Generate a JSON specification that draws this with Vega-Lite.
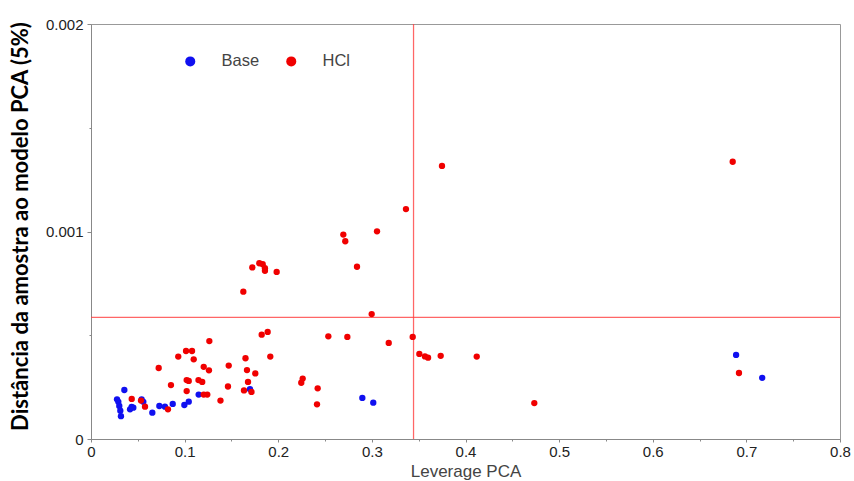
{
  "$schema": "https://vega.github.io/schema/vega-lite/v6.json",
  "width": 749,
  "height": 415,
  "autosize": "none",
  "padding": {"left": 91, "top": 24, "right": 14, "bottom": 42},
  "background": "white",
  "config": {
    "view": {"stroke": "#999999", "strokeWidth": 1},
    "font": "Liberation Sans"
  },
  "layer": [
    {
      "data": {"values": [{}]},
      "mark": {"type": "rule", "color": "#ff4040", "strokeWidth": 1.25, "opacity": 0.8},
      "encoding": {"y": {"datum": 0.000586, "type": "quantitative"}}
    },
    {
      "data": {"values": [{}]},
      "mark": {"type": "rule", "color": "#ff4040", "strokeWidth": 1.25, "opacity": 0.8},
      "encoding": {"x": {"datum": 0.3445, "type": "quantitative"}}
    },
    {
      "data": {"values": [
        {"lev": 0.0356, "dist": 0.000236, "grupo": "Base"},
        {"lev": 0.0278, "dist": 0.000191, "grupo": "Base"},
        {"lev": 0.0292, "dist": 0.000179, "grupo": "Base"},
        {"lev": 0.0302, "dist": 0.000159, "grupo": "Base"},
        {"lev": 0.0313, "dist": 0.000136, "grupo": "Base"},
        {"lev": 0.0320, "dist": 0.000110, "grupo": "Base"},
        {"lev": 0.0417, "dist": 0.000143, "grupo": "Base"},
        {"lev": 0.0434, "dist": 0.000155, "grupo": "Base"},
        {"lev": 0.0452, "dist": 0.000151, "grupo": "Base"},
        {"lev": 0.0541, "dist": 0.000191, "grupo": "Base"},
        {"lev": 0.0559, "dist": 0.000179, "grupo": "Base"},
        {"lev": 0.0655, "dist": 0.000127, "grupo": "Base"},
        {"lev": 0.0730, "dist": 0.000159, "grupo": "Base"},
        {"lev": 0.0790, "dist": 0.000156, "grupo": "Base"},
        {"lev": 0.0873, "dist": 0.000169, "grupo": "Base"},
        {"lev": 0.0997, "dist": 0.000164, "grupo": "Base"},
        {"lev": 0.1044, "dist": 0.000180, "grupo": "Base"},
        {"lev": 0.1150, "dist": 0.000214, "grupo": "Base"},
        {"lev": 0.1698, "dist": 0.000240, "grupo": "Base"},
        {"lev": 0.2898, "dist": 0.000198, "grupo": "Base"},
        {"lev": 0.3015, "dist": 0.000175, "grupo": "Base"},
        {"lev": 0.6890, "dist": 0.000405, "grupo": "Base"},
        {"lev": 0.7169, "dist": 0.000295, "grupo": "Base"},
        {"lev": 0.1264, "dist": 0.000472, "grupo": "HCl"},
        {"lev": 0.1823, "dist": 0.000503, "grupo": "HCl"},
        {"lev": 0.1887, "dist": 0.000516, "grupo": "HCl"},
        {"lev": 0.1915, "dist": 0.000397, "grupo": "HCl"},
        {"lev": 0.0932, "dist": 0.000397, "grupo": "HCl"},
        {"lev": 0.1015, "dist": 0.000424, "grupo": "HCl"},
        {"lev": 0.1079, "dist": 0.000424, "grupo": "HCl"},
        {"lev": 0.1097, "dist": 0.000384, "grupo": "HCl"},
        {"lev": 0.0723, "dist": 0.000342, "grupo": "HCl"},
        {"lev": 0.1204, "dist": 0.000348, "grupo": "HCl"},
        {"lev": 0.1260, "dist": 0.000331, "grupo": "HCl"},
        {"lev": 0.1471, "dist": 0.000354, "grupo": "HCl"},
        {"lev": 0.1650, "dist": 0.000389, "grupo": "HCl"},
        {"lev": 0.1666, "dist": 0.000332, "grupo": "HCl"},
        {"lev": 0.1755, "dist": 0.000316, "grupo": "HCl"},
        {"lev": 0.1677, "dist": 0.000275, "grupo": "HCl"},
        {"lev": 0.0854, "dist": 0.000260, "grupo": "HCl"},
        {"lev": 0.1022, "dist": 0.000284, "grupo": "HCl"},
        {"lev": 0.1044, "dist": 0.000280, "grupo": "HCl"},
        {"lev": 0.1148, "dist": 0.000284, "grupo": "HCl"},
        {"lev": 0.1188, "dist": 0.000275, "grupo": "HCl"},
        {"lev": 0.1463, "dist": 0.000253, "grupo": "HCl"},
        {"lev": 0.1022, "dist": 0.000231, "grupo": "HCl"},
        {"lev": 0.1634, "dist": 0.000234, "grupo": "HCl"},
        {"lev": 0.1714, "dist": 0.000227, "grupo": "HCl"},
        {"lev": 0.1204, "dist": 0.000214, "grupo": "HCl"},
        {"lev": 0.1242, "dist": 0.000214, "grupo": "HCl"},
        {"lev": 0.1383, "dist": 0.000185, "grupo": "HCl"},
        {"lev": 0.0435, "dist": 0.000193, "grupo": "HCl"},
        {"lev": 0.0534, "dist": 0.000185, "grupo": "HCl"},
        {"lev": 0.0577, "dist": 0.000156, "grupo": "HCl"},
        {"lev": 0.0822, "dist": 0.000143, "grupo": "HCl"},
        {"lev": 0.2261, "dist": 0.000291, "grupo": "HCl"},
        {"lev": 0.2246, "dist": 0.000271, "grupo": "HCl"},
        {"lev": 0.2421, "dist": 0.000244, "grupo": "HCl"},
        {"lev": 0.2414, "dist": 0.000167, "grupo": "HCl"},
        {"lev": 0.2535, "dist": 0.000495, "grupo": "HCl"},
        {"lev": 0.2738, "dist": 0.000492, "grupo": "HCl"},
        {"lev": 0.3180, "dist": 0.000463, "grupo": "HCl"},
        {"lev": 0.3436, "dist": 0.000492, "grupo": "HCl"},
        {"lev": 0.3507, "dist": 0.000410, "grupo": "HCl"},
        {"lev": 0.3567, "dist": 0.000398, "grupo": "HCl"},
        {"lev": 0.3600, "dist": 0.000392, "grupo": "HCl"},
        {"lev": 0.3735, "dist": 0.000401, "grupo": "HCl"},
        {"lev": 0.4120, "dist": 0.000397, "grupo": "HCl"},
        {"lev": 0.4735, "dist": 0.000173, "grupo": "HCl"},
        {"lev": 0.6921, "dist": 0.000318, "grupo": "HCl"},
        {"lev": 0.6854, "dist": 0.001336, "grupo": "HCl"},
        {"lev": 0.2695, "dist": 0.000985, "grupo": "HCl"},
        {"lev": 0.2716, "dist": 0.000953, "grupo": "HCl"},
        {"lev": 0.3055, "dist": 0.001001, "grupo": "HCl"},
        {"lev": 0.1723, "dist": 0.000827, "grupo": "HCl"},
        {"lev": 0.1798, "dist": 0.000847, "grupo": "HCl"},
        {"lev": 0.1834, "dist": 0.000842, "grupo": "HCl"},
        {"lev": 0.1858, "dist": 0.000823, "grupo": "HCl"},
        {"lev": 0.1858, "dist": 0.000811, "grupo": "HCl"},
        {"lev": 0.1983, "dist": 0.000805, "grupo": "HCl"},
        {"lev": 0.1627, "dist": 0.000710, "grupo": "HCl"},
        {"lev": 0.2841, "dist": 0.000830, "grupo": "HCl"},
        {"lev": 0.2998, "dist": 0.000602, "grupo": "HCl"},
        {"lev": 0.3364, "dist": 0.001108, "grupo": "HCl"},
        {"lev": 0.3749, "dist": 0.001316, "grupo": "HCl"}
      ]},
      "mark": {"type": "point", "filled": true, "opacity": 1, "size": 40, "shape": "circle"},
      "encoding": {
        "x": {
          "field": "lev",
          "type": "quantitative",
          "scale": {"domain": [0, 0.8], "nice": false, "zero": false},
          "axis": {
            "title": "Leverage PCA",
            "grid": false,
            "values": [0, 0.05, 0.1, 0.15, 0.2, 0.25, 0.3, 0.35, 0.4, 0.45, 0.5, 0.55, 0.6, 0.65, 0.7, 0.75, 0.8],
            "labelExpr": "abs(datum.value*10 - round(datum.value*10)) < 0.001 ? format(datum.value, '~g') : ''",
            "labelFont": "Liberation Sans",
            "labelFontSize": 15,
            "labelColor": "#222222",
            "labelPadding": 2,
            "labelFlush": false,
            "labelOverlap": false,
            "tickSize": {"condition": {"test": "abs(datum.value*10 - round(datum.value*10)) < 0.001", "value": 3}, "value": 2},
            "tickColor": "#888888",
            "domainColor": "#888888",
            "titleFont": "Liberation Sans",
            "titleFontSize": 17,
            "titleFontWeight": "normal",
            "titleColor": "#444444",
            "titleBaseline": "middle",
            "titleY": 32
          }
        },
        "y": {
          "field": "dist",
          "type": "quantitative",
          "scale": {"domain": [0, 0.002], "nice": false, "zero": false},
          "axis": {
            "title": "Distância da amostra ao modelo PCA (5%)",
            "grid": false,
            "values": [0, 0.0005, 0.001, 0.0015, 0.002],
            "labelExpr": "abs(datum.value*1000 - round(datum.value*1000)) < 0.001 ? format(datum.value, '~g') : ''",
            "labelFont": "Liberation Sans",
            "labelFontSize": 15,
            "labelColor": "#222222",
            "labelPadding": 4,
            "labelFlush": false,
            "labelOverlap": false,
            "tickSize": {"condition": {"test": "abs(datum.value*1000 - round(datum.value*1000)) < 0.001", "value": 4}, "value": 2},
            "tickColor": "#888888",
            "domainColor": "#888888",
            "titleFont": "Lato",
            "titleFontSize": 22,
            "titleFontWeight": "bold",
            "titleColor": "#000000",
            "titleAngle": -90,
            "titleAlign": "center",
            "titleBaseline": "middle",
            "titleX": -71,
            "titleY": 202
          }
        },
        "color": {
          "field": "grupo",
          "type": "nominal",
          "scale": {"domain": ["Base", "HCl"], "range": ["#1010f0", "#f00000"]},
          "legend": {
            "title": null,
            "orient": "none",
            "legendX": 91,
            "legendY": 29,
            "direction": "horizontal",
            "symbolType": "circle",
            "symbolSize": 100,
            "symbolStrokeWidth": 0,
            "symbolOpacity": 1,
            "labelFont": "Liberation Sans",
            "labelFontSize": 16.5,
            "labelColor": "#444444",
            "labelOffset": 23,
            "columnPadding": 23
          }
        }
      }
    }
  ]
}
